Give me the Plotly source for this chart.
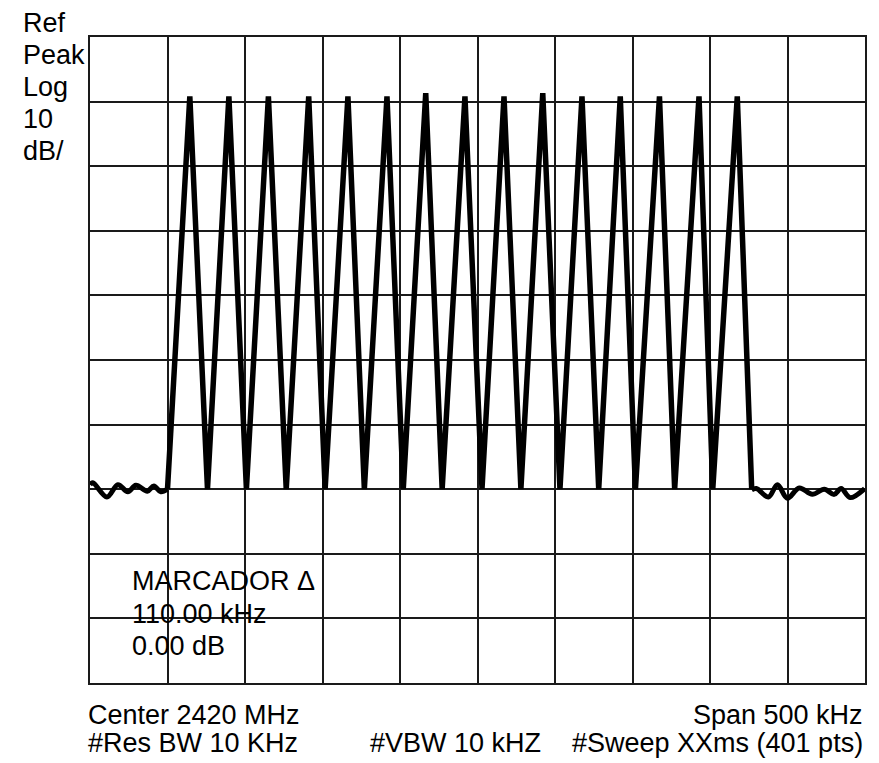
import plotly.graph_objects as go

# ---- data (kHz offset from center, dB relative to ref) ----
start_khz = [-200.0]
start_db = [-70.0]
peak_khz = [-185.6, -160.4, -134.9, -108.9, -83.6, -58.4, -33.4, -8.1,
            17.1, 42.1, 67.4, 92.1, 117.4, 142.9, 167.6]
peak_db = [-9.2, -9.2, -9.2, -9.2, -9.2, -9.2, -8.7, -9.2,
           -9.2, -8.7, -9.2, -9.2, -9.2, -9.2, -9.2]
trough_khz = [-174.2, -149.1, -123.4, -98.3, -73.0, -47.9, -22.8, 2.9,
              28.0, 53.2, 78.2, 101.9, 127.2, 151.8, 176.9]
trough_db = [-70.0] * 15

noise_left_khz = [-250.0, -248.2, -239.1, -232.0, -225.6, -220.4, -213.0, -208.8, -204.3, -200.0]
noise_left_db = [-69.3, -69.0, -71.2, -69.3, -70.4, -69.4, -70.3, -69.5, -70.4, -70.0]
noise_right_khz = [176.9, 179.9, 187.7, 193.5, 199.9, 207.6, 216.0, 223.7, 230.1, 234.6, 240.4, 249.8]
noise_right_db = [-70.1, -69.9, -71.2, -69.3, -71.4, -69.8, -70.8, -70.0, -70.8, -69.9, -71.3, -69.9]

left_labels = ["Ref", "Peak", "Log", "10", "dB/"]
marker_labels = ["MARCADOR Δ", "110.00 kHz", "0.00 dB"]
footer_left = ["Center 2420 MHz", "#Res BW 10 KHz"]
footer_mid = "#VBW 10 kHZ"
footer_right = ["Span 500 kHz", "#Sweep XXms (401 pts)"]

# ---- build comb trace ----
comb_x = list(start_khz)
comb_y = list(start_db)
for px, py, tx, ty in zip(peak_khz, peak_db, trough_khz, trough_db):
    comb_x += [px, tx]
    comb_y += [py, ty]

# page body has an 8px default margin; size the figure so the plot area
# lands at page x 90..867, y 37..683
OFF = 8
W, H = 879 - OFF, 763 - OFF
L, R, T, B = 90 - OFF, 12, 37 - OFF, 80
pw, ph = W - L - R, H - T - B

def xp(px):
    return (px - OFF - L) / pw

def yp(py):
    return 1 - (py - OFF - T) / ph

fig = go.Figure()
fig.add_trace(go.Scatter(x=noise_left_khz, y=noise_left_db, mode="lines",
                         line=dict(color="black", width=5, shape="spline", smoothing=1.0),
                         hoverinfo="skip"))
fig.add_trace(go.Scatter(x=noise_right_khz, y=noise_right_db, mode="lines",
                         line=dict(color="black", width=5, shape="spline", smoothing=1.0),
                         hoverinfo="skip"))
fig.add_trace(go.Scatter(x=comb_x, y=comb_y, mode="lines",
                         line=dict(color="black", width=5.5),
                         hoverinfo="skip"))

font = dict(family="Liberation Sans, Arial, sans-serif", size=27, color="black")
ann = []
for i, t in enumerate(left_labels):
    ann.append(dict(text=t, x=xp(21), y=yp(23 + 32 * i), xref="paper", yref="paper",
                    xanchor="left", yanchor="middle", showarrow=False, font=font))
for i, t in enumerate(marker_labels):
    ann.append(dict(text=t, x=xp(130), y=yp(581 + 32.5 * i), xref="paper", yref="paper",
                    xanchor="left", yanchor="middle", showarrow=False, font=font))
for i, t in enumerate(footer_left):
    ann.append(dict(text=t, x=xp(86), y=yp(715 + 28 * i), xref="paper", yref="paper",
                    xanchor="left", yanchor="middle", showarrow=False, font=font))
ann.append(dict(text=footer_mid, x=xp(369), y=yp(743), xref="paper", yref="paper",
                xanchor="left", yanchor="middle", showarrow=False, font=font))
for i, t in enumerate(footer_right):
    ann.append(dict(text=t, x=xp(867), y=yp(715 + 28 * i), xref="paper", yref="paper",
                    xanchor="right", yanchor="middle", showarrow=False, font=font))

axis_common = dict(showticklabels=False, ticks="", showgrid=True, gridcolor="#1a1a1a",
                   gridwidth=2, zeroline=False, showline=True, linecolor="#1a1a1a",
                   linewidth=2, mirror=True, fixedrange=True)
fig.update_layout(
    width=W, height=H, autosize=False,
    margin=dict(l=L, r=R, t=T, b=B),
    paper_bgcolor="white", plot_bgcolor="white",
    showlegend=False,
    xaxis=dict(range=[-250, 250], tick0=-250, dtick=50, **axis_common),
    yaxis=dict(range=[-100, 0], tick0=-100, dtick=10, **axis_common),
    annotations=ann,
)
fig.write_html("out.html")
